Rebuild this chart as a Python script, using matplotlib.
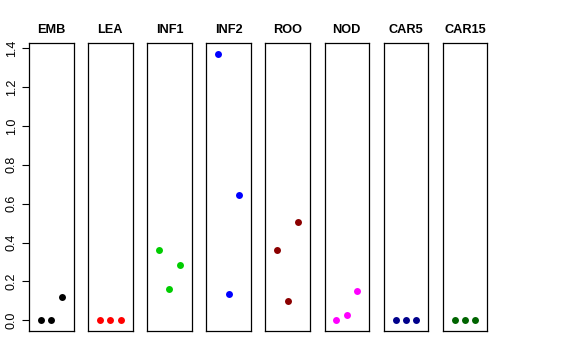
import matplotlib
matplotlib.use("Agg")
import matplotlib.pyplot as plt
import numpy as np

plt.rcParams['font.family'] = ['Liberation Sans', 'DejaVu Sans']

# one panel per tissue, three replicate values each
panels = ["EMB", "LEA", "INF1", "INF2", "ROO", "NOD", "CAR5", "CAR15"]
colors = ["black", "red", "#00CD00", "blue", "#8B0000", "magenta", "#00008B", "#006400"]
EMB = [0.0, 0.0, 0.118]
LEA = [0.0, 0.0, 0.0]
INF1 = [0.364, 0.163, 0.283]
INF2 = [1.371, 0.137, 0.643]
ROO = [0.364, 0.099, 0.503]
NOD = [0.0, 0.028, 0.149]
CAR5 = [0.0, 0.0, 0.0]
CAR15 = [0.0, 0.0, 0.0]
values = [EMB, LEA, INF1, INF2, ROO, NOD, CAR5, CAR15]
reps = [1, 2, 3]

W, H = 576, 360
fig = plt.figure(figsize=(W / 100, H / 100), dpi=100)

ymax = max(max(v) for v in values)
ylim = (-0.04 * ymax, ymax * 1.04)

for i, (name, col, vals) in enumerate(zip(panels, colors, values)):
    left = 29 + i * 59.1
    ax = fig.add_axes([left / W, 29 / H, 44.5 / W, 288 / H])
    ax.plot(reps, vals, 'o', color=col, markersize=5, markeredgewidth=0)
    ax.set_xlim(-0.16, 4.16)
    ax.set_ylim(*ylim)
    ax.set_xticks([])
    for s in ax.spines.values():
        s.set_linewidth(0.9)
        s.set_color('black')
    ax.set_title(name, fontsize=9.2, fontweight='bold', pad=7)
    if i == 0:
        ax.set_yticks(np.arange(0, 1.41, 0.2))
        ax.set_yticklabels([f"{t:.1f}" for t in np.arange(0, 1.41, 0.2)],
                           rotation=90, va='center', fontsize=9)
        ax.tick_params(axis='y', length=5, width=0.8, pad=3)
    else:
        ax.set_yticks([])

fig.savefig("out.png", dpi=100)
